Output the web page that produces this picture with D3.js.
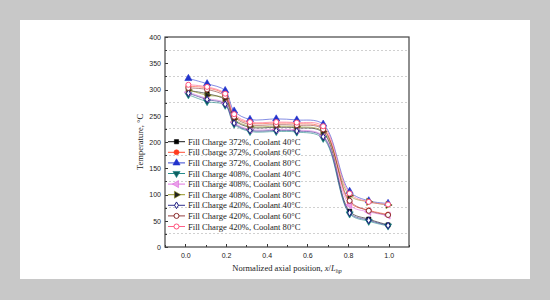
<!DOCTYPE html>
<html lang="en">
<head>
<meta charset="UTF-8" />
<title>Temperature profile</title>
<script src="https://d3js.org/d3.v7.min.js"></script>
<style>
    body { margin: 0; background: #c8c8c8; }
    .axis path, .axis line { fill: none; stroke: #333; shape-rendering: crispEdges; }
    .axis text { font-family: "Liberation Sans", Arial, sans-serif; font-size: 7px; fill: #222; }
    .grid line { stroke: #d0d0d0; stroke-dasharray: 2,2; shape-rendering: crispEdges; }
    .legend text { font-family: "Liberation Serif", "Times New Roman", serif; font-size: 8.6px; fill: #222; }
    .title { font-family: "Liberation Serif", "Times New Roman", serif; font-size: 8.5px; fill: #222; }
</style>
</head>
<body>
<script>
// normalized axial positions
var xPos = [0.015, 0.107, 0.196, 0.24, 0.318, 0.447, 0.548, 0.678, 0.808, 0.902, 0.997];

var labels = [
    "Fill Charge 372%, Coolant 40°C",
    "Fill Charge 372%, Coolant 60°C",
    "Fill Charge 372%, Coolant 80°C",
    "Fill Charge 408%, Coolant 40°C",
    "Fill Charge 408%, Coolant 60°C",
    "Fill Charge 408%, Coolant 80°C",
    "Fill Charge 420%, Coolant 40°C",
    "Fill Charge 420%, Coolant 60°C",
    "Fill Charge 420%, Coolant 80°C"
];

var fc372c40 = [298, 292, 280, 242, 228, 228, 227, 218, 68, 53, 42];
var fc372c60 = [306, 303, 290, 250, 236, 236, 235, 226, 85, 70, 62];
var fc372c80 = [321, 311, 298, 259, 243, 244, 242, 234, 106, 88, 83];
var fc408c40 = [290, 277, 270, 234, 220, 220, 219, 207, 63, 49, 40];
var fc408c60 = [295, 283, 274, 238, 224, 224, 223, 212, 80, 67, 60];
var fc408c80 = [299, 289, 283, 244, 230, 230, 229, 220, 98, 86, 80];
var fc420c40 = [293, 281, 272, 236, 222, 222, 221, 210, 65, 51, 41];
var fc420c60 = [303, 300, 287, 248, 233, 233, 232, 224, 88, 69, 61];
var fc420c80 = [309, 305, 292, 253, 238, 238, 237, 230, 102, 86, 81];

var xTicks = [0.0, 0.2, 0.4, 0.6, 0.8, 1.0];
var yTicks = [0, 50, 100, 150, 200, 250, 300, 350, 400];

var allSeries = [fc372c40, fc372c60, fc372c80, fc408c40, fc408c60, fc408c80, fc420c40, fc420c60, fc420c80];
var colors = ["#000000", "#ff3b1f", "#2233cc", "#0f7f7f", "#dd66dd", "#8a8a10", "#1a1a80", "#8a2a2a", "#ff4f7a"];
var symbols = [d3.symbolSquare, d3.symbolCircle, d3.symbolTriangle, "down", "left", "right", d3.symbolDiamond, d3.symbolCircle, d3.symbolCircle];
var sizes = [18, 20, 22, 22, 22, 22, 13, 20, 20];
var filled = [true, true, true, true, true, true, false, false, false];
var markerFill = ["#000", "#ff3b1f", "#2233cc", "#0f5f5f", "#e9a0e9", "#222", "#fff", "#fff", "#fff"];

var svg = d3.select("body").append("svg")
    .attr("width", 550)
    .attr("height", 300);

svg.append("rect")
    .attr("x", 20).attr("y", 20)
    .attr("width", 510).attr("height", 259)
    .attr("fill", "#fff");

var plot = { left: 165, right: 409, top: 37, bottom: 247 };

var xScale = d3.scaleLinear().domain([-0.1, 1.1]).range([plot.left, plot.right]);
var yScale = d3.scaleLinear().domain([0, 400]).range([plot.bottom, plot.top]);

// dashed grid at half steps
svg.append("g").attr("class", "grid")
    .selectAll("line")
    .data(d3.range(25, 400, 50))
    .enter().append("line")
    .attr("x1", plot.left).attr("x2", plot.right)
    .attr("y1", function (d) { return yScale(d); })
    .attr("y2", function (d) { return yScale(d); });

// axes with inward ticks
svg.append("g")
    .attr("class", "axis")
    .attr("transform", "translate(0," + plot.bottom + ")")
    .call(d3.axisBottom(xScale).tickValues(xTicks).tickSize(-3).tickPadding(6).tickFormat(d3.format(".1f")));
svg.append("g")
    .attr("class", "axis")
    .attr("transform", "translate(0," + plot.bottom + ")")
    .call(d3.axisBottom(xScale).tickValues(d3.range(-0.1, 1.15, 0.2)).tickSize(-2).tickFormat(""));

svg.append("g")
    .attr("class", "axis")
    .attr("transform", "translate(" + plot.left + ",0)")
    .call(d3.axisLeft(yScale).tickValues(yTicks).tickSize(-3).tickPadding(4));
svg.append("g")
    .attr("class", "axis")
    .attr("transform", "translate(" + plot.left + ",0)")
    .call(d3.axisLeft(yScale).tickValues(d3.range(25, 400, 50)).tickSize(-2).tickFormat(""));

svg.selectAll(".axis .domain").remove();

svg.append("rect")
    .attr("x", plot.left).attr("y", plot.top)
    .attr("width", plot.right - plot.left).attr("height", plot.bottom - plot.top)
    .attr("fill", "none")
    .attr("stroke", "#444")
    .attr("stroke-width", 1.2);

function markerPath(s, size) {
    if (s === "down" || s === "left" || s === "right") {
        return d3.symbol().type(d3.symbolTriangle).size(size)();
    }
    return d3.symbol().type(s).size(size)();
}
function markerRot(s) {
    if (s === "down") return " rotate(180)";
    if (s === "left") return " rotate(-90)";
    if (s === "right") return " rotate(90)";
    return "";
}

var line = d3.line()
    .x(function (d, i) { return xScale(xPos[i]); })
    .y(function (d) { return yScale(d); })
    .curve(d3.curveCatmullRom);

var series = svg.selectAll(".series")
    .data(allSeries)
    .enter().append("g")
    .attr("class", "series");

series.append("path")
    .attr("d", function (d) { return line(d); })
    .attr("fill", "none")
    .attr("stroke", function (d, i) { return colors[i]; })
    .attr("stroke-opacity", 0.7)
    .attr("stroke-width", 0.8);

series.each(function (d, si) {
    d3.select(this).selectAll("path.mk")
        .data(d)
        .enter().append("path")
        .attr("class", "mk")
        .attr("d", markerPath(symbols[si], sizes[si]))
        .attr("transform", function (v, i) {
            return "translate(" + xScale(xPos[i]) + "," + yScale(v) + ")" + markerRot(symbols[si]);
        })
        .attr("fill", markerFill[si])
        .attr("stroke", colors[si])
        .attr("stroke-width", filled[si] ? 0.6 : 1);
});

// legend
var legend = svg.append("g").attr("class", "legend");
labels.forEach(function (lab, i) {
    var y = 141.7 + i * 10.6;
    legend.append("line")
        .attr("x1", 168).attr("x2", 185)
        .attr("y1", y).attr("y2", y)
        .attr("stroke", colors[i])
        .attr("stroke-width", 0.9);
    legend.append("path")
        .attr("d", markerPath(symbols[i], sizes[i]))
        .attr("transform", "translate(176.5," + y + ")" + markerRot(symbols[i]))
        .attr("fill", markerFill[i])
        .attr("stroke", colors[i])
        .attr("stroke-width", filled[i] ? 0.6 : 1);
    legend.append("text")
        .attr("x", 188)
        .attr("y", y + 3)
        .text(lab);
});

// axis titles
svg.append("text")
    .attr("class", "title")
    .attr("transform", "translate(143," + ((plot.top + plot.bottom) / 2) + ") rotate(-90)")
    .attr("text-anchor", "middle")
    .text("Temperature, °C");

var xt = svg.append("text")
    .attr("class", "title")
    .attr("x", (plot.left + plot.right) / 2)
    .attr("y", 271)
    .attr("text-anchor", "middle");
xt.append("tspan").text("Normalized axial position, ");
xt.append("tspan").attr("font-style", "italic").text("x");
xt.append("tspan").text("/");
xt.append("tspan").attr("font-style", "italic").text("L");
xt.append("tspan").attr("font-size", "6px").attr("dy", 2).attr("font-style", "italic").text("hp");
</script>
</body>
</html>
